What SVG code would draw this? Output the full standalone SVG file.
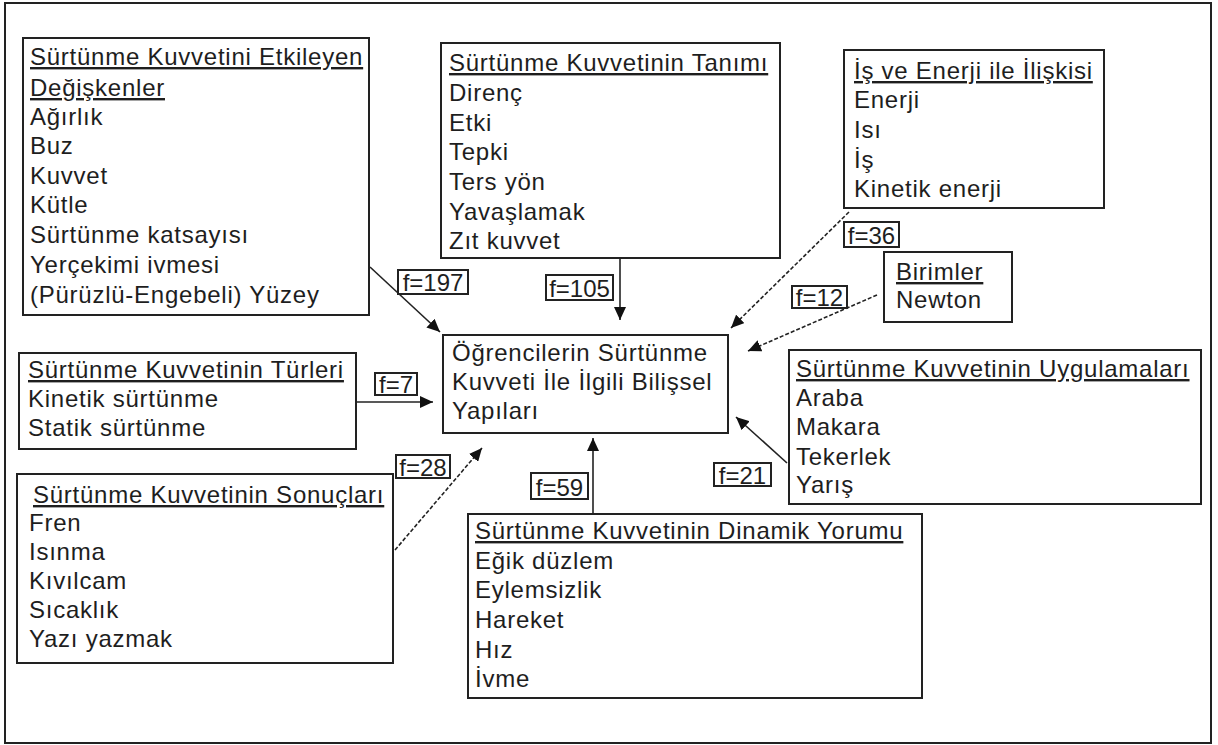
<svg xmlns="http://www.w3.org/2000/svg" width="1218" height="745" viewBox="0 0 1218 745">
<style>
.box{fill:#fff;stroke:#222;stroke-width:2}
.lbl{fill:#fff;stroke:#222;stroke-width:2}
text{font-family:"Liberation Sans",Arial,sans-serif;font-size:24px;fill:#1e1e1e;letter-spacing:0.75px}
.t{text-decoration:underline}
.c{text-anchor:middle;letter-spacing:0}
.ln{stroke:#222;stroke-width:1.6;fill:none;marker-end:url(#ah)}
.dash{stroke-dasharray:4 2}
</style>
<defs>
<marker id="ah" markerUnits="userSpaceOnUse" markerWidth="14" markerHeight="12" refX="13" refY="6" orient="auto">
<path d="M0,0 L13,6 L0,12 z" fill="#111"/>
</marker>
</defs>
<rect x="0" y="0" width="1218" height="745" fill="#fff"/>
<rect x="5" y="3" width="1206" height="740" fill="none" stroke="#222" stroke-width="2"/>

<g id="connectors">
<line class="ln" x1="370" y1="267" x2="440" y2="332"/>
<line class="ln" x1="620" y1="258" x2="620" y2="320"/>
<line class="ln dash" x1="849" y1="212" x2="731" y2="328"/>
<line class="ln dash" x1="877" y1="295" x2="748" y2="351"/>
<line class="ln" x1="356" y1="402" x2="433" y2="402"/>
<line class="ln dash" x1="395" y1="550" x2="482" y2="448"/>
<line class="ln" x1="593" y1="514" x2="593" y2="438"/>
<line class="ln" x1="787" y1="463" x2="736" y2="417"/>
</g>

<g id="etkileyen">
<rect class="box" x="23" y="38" width="346" height="277"/>
<text x="30" y="65" class="t">Sürtünme Kuvvetini Etkileyen</text>
<text x="30" y="96" class="t">Değişkenler</text>
<text x="30" y="125">Ağırlık</text>
<text x="30" y="154">Buz</text>
<text x="30" y="184">Kuvvet</text>
<text x="30" y="213">Kütle</text>
<text x="30" y="243">Sürtünme katsayısı</text>
<text x="30" y="273">Yerçekimi ivmesi</text>
<text x="30" y="303">(Pürüzlü-Engebeli) Yüzey</text>
</g>

<g id="tanimi">
<rect class="box" x="441" y="43" width="339" height="215"/>
<text x="449" y="71" class="t">Sürtünme Kuvvetinin Tanımı</text>
<text x="449" y="101">Direnç</text>
<text x="449" y="131">Etki</text>
<text x="449" y="160">Tepki</text>
<text x="449" y="190">Ters yön</text>
<text x="449" y="220">Yavaşlamak</text>
<text x="449" y="249">Zıt kuvvet</text>
</g>

<g id="is-enerji">
<rect class="box" x="844" y="50" width="260" height="158"/>
<text x="854" y="79" class="t">İş ve Enerji ile İlişkisi</text>
<text x="854" y="108">Enerji</text>
<text x="854" y="138">Isı</text>
<text x="854" y="168">İş</text>
<text x="854" y="197">Kinetik enerji</text>
</g>

<g id="birimler">
<rect class="box" x="884" y="252" width="128" height="70"/>
<text x="896" y="280" class="t">Birimler</text>
<text x="896" y="308">Newton</text>
</g>

<g id="merkez">
<rect class="box" x="443" y="335" width="285" height="98"/>
<text x="452" y="361">Öğrencilerin Sürtünme</text>
<text x="452" y="390">Kuvveti İle İlgili Bilişsel</text>
<text x="452" y="419">Yapıları</text>
</g>

<g id="turleri">
<rect class="box" x="19" y="353" width="337" height="96"/>
<text x="28" y="378" class="t">Sürtünme Kuvvetinin Türleri</text>
<text x="28" y="407">Kinetik sürtünme</text>
<text x="28" y="436">Statik sürtünme</text>
</g>

<g id="sonuclari">
<rect class="box" x="17" y="474" width="376" height="189"/>
<text x="33" y="503" class="t">Sürtünme Kuvvetinin Sonuçları</text>
<text x="29" y="531">Fren</text>
<text x="29" y="560">Isınma</text>
<text x="29" y="589">Kıvılcam</text>
<text x="29" y="618">Sıcaklık</text>
<text x="29" y="647">Yazı yazmak</text>
</g>

<g id="dinamik">
<rect class="box" x="468" y="514" width="454" height="184"/>
<text x="475" y="539" class="t">Sürtünme Kuvvetinin Dinamik Yorumu</text>
<text x="475" y="569">Eğik düzlem</text>
<text x="475" y="598">Eylemsizlik</text>
<text x="475" y="628">Hareket</text>
<text x="475" y="658">Hız</text>
<text x="475" y="687">İvme</text>
</g>

<g id="uygulamalari">
<rect class="box" x="789" y="350" width="412" height="154"/>
<text x="796" y="377" class="t">Sürtünme Kuvvetinin Uygulamaları</text>
<text x="796" y="406">Araba</text>
<text x="796" y="435">Makara</text>
<text x="796" y="465">Tekerlek</text>
<text x="796" y="493">Yarış</text>
</g>

<g id="f197"><rect class="lbl" x="398" y="270" width="70" height="24"/><text class="c" x="433" y="291">f=197</text></g>
<g id="f105"><rect class="lbl" x="546" y="275" width="67" height="25"/><text class="c" x="579.5" y="297">f=105</text></g>
<g id="f36"><rect class="lbl" x="844" y="222" width="55" height="25"/><text class="c" x="871.5" y="244">f=36</text></g>
<g id="f12"><rect class="lbl" x="792" y="286" width="55" height="22"/><text class="c" x="819.5" y="306">f=12</text></g>
<g id="f7"><rect class="lbl" x="375" y="373" width="42" height="22"/><text class="c" x="396" y="393">f=7</text></g>
<g id="f28"><rect class="lbl" x="396" y="455" width="54" height="23"/><text class="c" x="423" y="476">f=28</text></g>
<g id="f59"><rect class="lbl" x="531" y="473" width="57" height="26"/><text class="c" x="559.5" y="496">f=59</text></g>
<g id="f21"><rect class="lbl" x="714" y="463" width="57" height="23"/><text class="c" x="742.5" y="484">f=21</text></g>
</svg>
